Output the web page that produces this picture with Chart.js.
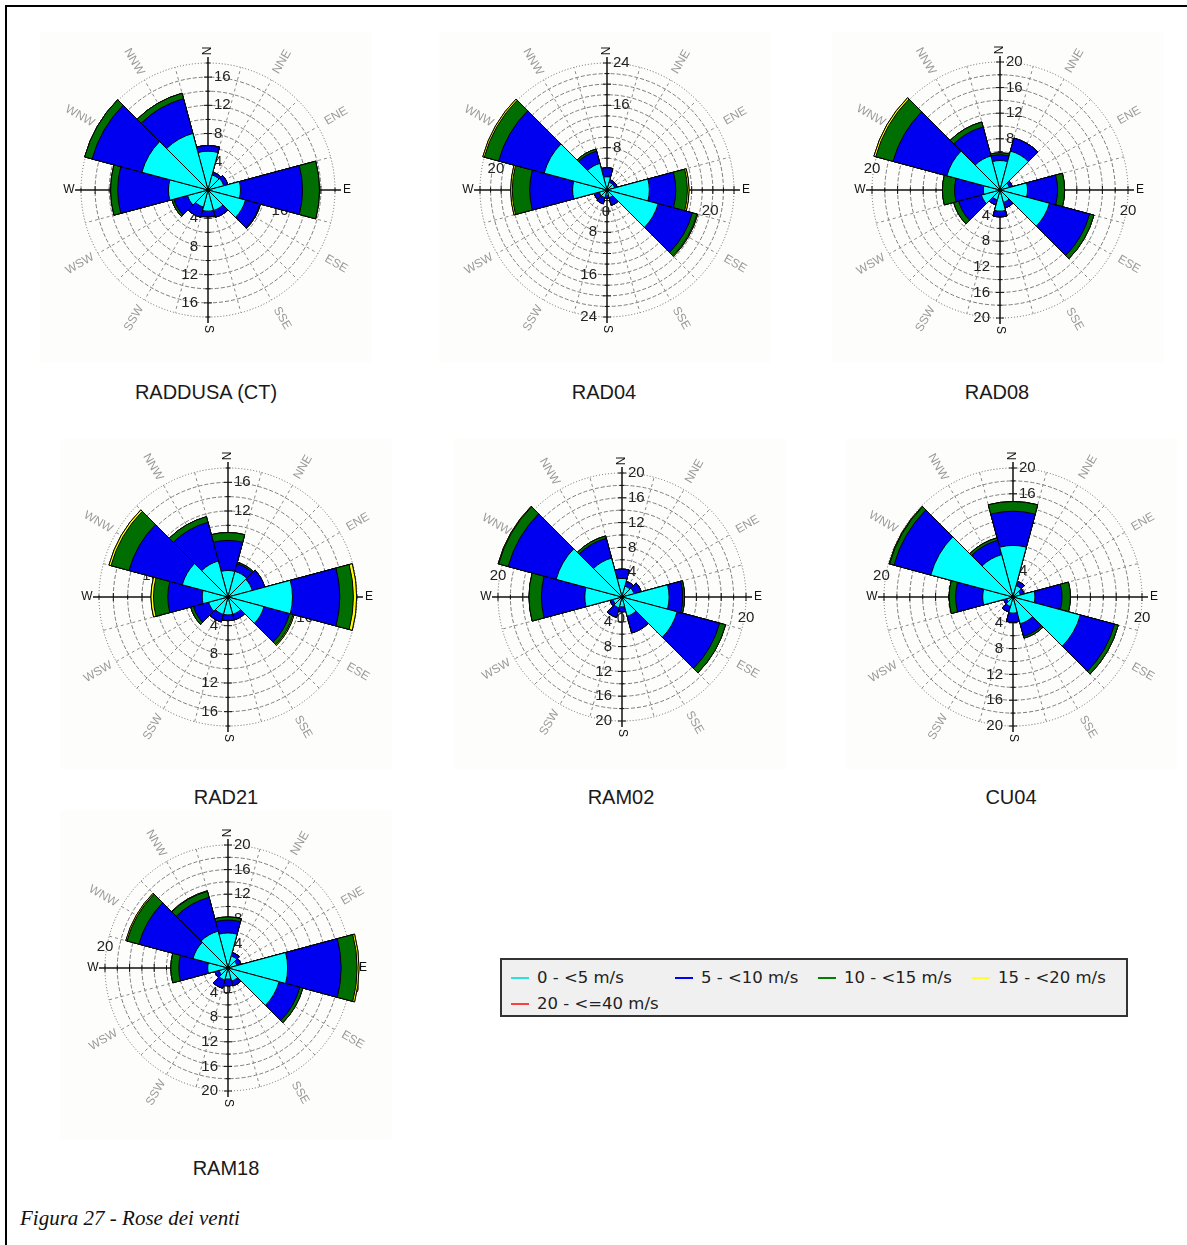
<!DOCTYPE html>
<html>
<head>
<meta charset="utf-8">
<script src="https://cdn.jsdelivr.net/npm/chart.js@4/dist/chart.umd.min.js"></script>
<style>
  html, body { margin: 0; padding: 0; background: #ffffff; }
  #page { position: relative; width: 1187px; height: 1245px; overflow: hidden; background: #fff; }
  .frameTop { position: absolute; left: 5px; top: 5px; width: 1182px; height: 2px; background: #000; }
  .frameLeft { position: absolute; left: 5px; top: 5px; width: 2px; height: 1240px; background: #000; }
  .bg { position: absolute; background: #fdfdfb; }
  .rose { position: absolute; width: 340px; height: 340px; }
  .name { position: absolute; font-family: "Liberation Sans", Arial, sans-serif; font-size: 20px; line-height: 24px;
          color: #1a1a1a; transform: translateX(-50%); white-space: nowrap; }
  .caption { position: absolute; left: 20px; top: 1206px; font-family: "Liberation Serif", "DejaVu Serif", serif;
             font-style: italic; font-size: 21px; color: #111; white-space: nowrap; }
  .legend { position: absolute; left: 500px; top: 958px; width: 624px; height: 55px; border: 2px solid #333;
            background: #f0f0f0; }
  .lgItem { position: absolute; font-family: "DejaVu Sans", sans-serif; font-size: 16.5px; line-height: 20px;
            color: #222; white-space: nowrap; }
  .lgLine { position: absolute; width: 18px; height: 2px; }
</style>
</head>
<body>
<div id="page">
  <div class="frameTop"></div>
  <div class="frameLeft"></div>
  <div id="roses"></div>
  <div class="legend" id="legend"></div>
  <div class="caption">Figura 27 - Rose dei venti</div>
</div>
<script>
// ---------------- DATA ----------------
const directions = ['N', 'NNE', 'ENE', 'E', 'ESE', 'SSE', 'S', 'SSW', 'WSW', 'W', 'WNW', 'NNW'];
const speedClasses = ['0 - <5 m/s', '5 - <10 m/s', '10 - <15 m/s', '15 - <20 m/s', '20 - <=40 m/s'];
const stationNames = ['RADDUSA (CT)', 'RAD04', 'RAD08', 'RAD21', 'RAM02', 'CU04', 'RAM18'];

// frequency (%) per direction and speed class
const raddusa_0_5   = [5.5, 2.2, 2.3, 4.6, 5.5, 3.0, 3.0, 2.5, 3.0, 5.6, 9.7, 8.3];
const raddusa_5_10  = [0.8, 0.4, 0.6, 8.8, 2.1, 1.0, 0.8, 1.5, 2.0, 7.2, 7.3, 5.1];
const raddusa_10_15 = [0, 0, 0, 2.4, 0.1, 0, 0, 0, 0.3, 1.0, 1.1, 0.8];
const raddusa_15_20 = [0, 0, 0, 0, 0, 0, 0, 0, 0, 0, 0, 0];
const raddusa_20_40 = [0, 0, 0, 0, 0, 0, 0, 0, 0, 0, 0, 0];

const rad04_0_5   = [2.5, 1.5, 1.5, 8.0, 10.0, 1.5, 1.0, 1.5, 1.5, 6.5, 12.3, 5.2];
const rad04_5_10  = [1.7, 0.5, 0.5, 5.0, 6.7, 1.5, 0.5, 1.2, 1.0, 8.1, 8.9, 2.4];
const rad04_10_15 = [0, 0, 0, 2.2, 0.9, 0, 0, 0, 0, 3.3, 2.8, 0.4];
const rad04_15_20 = [0, 0, 0, 0.3, 0.15, 0, 0, 0, 0, 0.3, 0.3, 0];
const rad04_20_40 = [0, 0, 0, 0, 0, 0, 0, 0, 0, 0, 0, 0];

const rad08_0_5   = [4.6, 6.3, 1.5, 4.3, 8.0, 2.0, 3.3, 1.6, 3.0, 2.6, 8.6, 5.5];
const rad08_5_10  = [0.9, 2.1, 0.5, 4.7, 6.5, 0.9, 0.9, 0.8, 3.7, 4.5, 8.7, 4.7];
const rad08_10_15 = [0.3, 0, 0, 1.1, 0.7, 0, 0, 0, 0.8, 1.9, 2.8, 0.8];
const rad08_15_20 = [0, 0, 0, 0, 0, 0, 0, 0, 0, 0, 0.3, 0];
const rad08_20_40 = [0, 0, 0, 0, 0, 0, 0, 0, 0, 0, 0, 0];

const rad21_0_5   = [3.7, 3.7, 3.5, 9.0, 5.2, 2.5, 2.5, 2.5, 2.8, 3.6, 6.6, 5.2];
const rad21_5_10  = [4.2, 1.1, 1.8, 6.6, 3.7, 0.8, 0.8, 1.1, 2.2, 4.8, 7.7, 5.6];
const rad21_10_15 = [1.1, 0.2, 0, 1.9, 0.5, 0, 0, 0, 0.4, 2.0, 2.6, 0.8];
const rad21_15_20 = [0, 0, 0, 0.45, 0.15, 0, 0, 0, 0, 0.35, 0.3, 0];
const rad21_20_40 = [0, 0, 0, 0, 0, 0, 0, 0, 0, 0, 0, 0];

const ram02_0_5   = [3.0, 1.8, 2.0, 7.6, 9.2, 3.2, 1.6, 1.8, 1.5, 6.0, 11.0, 6.5];
const ram02_5_10  = [1.5, 0.8, 1.2, 2.2, 7.1, 2.8, 0.8, 1.6, 0.5, 7.0, 8.0, 3.3];
const ram02_10_15 = [0, 0, 0, 0.3, 1.0, 0, 0, 0, 0, 2.0, 1.6, 0.4];
const ram02_15_20 = [0, 0, 0, 0, 0, 0, 0, 0, 0, 0, 0.1, 0];
const ram02_20_40 = [0, 0, 0, 0, 0, 0, 0, 0, 0, 0, 0, 0];

const cu04_0_5   = [8.0, 1.8, 1.2, 3.4, 10.8, 4.3, 2.5, 1.5, 1.0, 4.7, 13.2, 6.8];
const cu04_5_10  = [5.3, 0.7, 0.6, 4.2, 5.5, 2.0, 1.4, 0.9, 0.5, 4.2, 5.9, 2.3];
const cu04_10_15 = [1.5, 0, 0, 1.3, 0.6, 0.3, 0, 0, 0, 1.0, 0.7, 0.4];
const cu04_15_20 = [0, 0, 0, 0, 0, 0, 0, 0, 0, 0, 0.1, 0];
const cu04_20_40 = [0, 0, 0, 0, 0, 0, 0, 0, 0, 0, 0, 0];

const ram18_0_5   = [5.7, 2.0, 1.5, 9.7, 8.6, 2.2, 1.8, 2.0, 1.5, 3.3, 5.9, 6.2];
const ram18_5_10  = [2.1, 0.6, 0.7, 8.7, 3.5, 0.8, 1.1, 1.4, 0.7, 4.7, 9.1, 5.7];
const ram18_10_15 = [0.5, 0, 0, 2.6, 0.5, 0, 0, 0, 0, 1.3, 2.0, 1.0];
const ram18_15_20 = [0, 0, 0, 0.3, 0, 0, 0, 0, 0, 0, 0.2, 0.1];
const ram18_20_40 = [0, 0, 0, 0, 0, 0, 0, 0, 0, 0, 0, 0];

// radial axis: outer ring value and tick labels
const scaleMax = [18, 24, 20, 18, 20, 20, 20];
const northTicks = [[4, 8, 12, 16], [8, 16, 24], [4, 8, 12, 16, 20], [4, 8, 12, 16], [4, 8, 12, 16, 20], [4, 8, 12, 16, 20], [4, 8, 12, 16, 20]];
const southTicks = [[4, 8, 12, 16], [8, 16, 24], [4, 8, 12, 16, 20], [4, 8, 12, 16], [4, 8, 12, 16, 20], [4, 8, 12, 16, 20], [4, 8, 12, 16, 20]];
const westLabelAt = [10.2, 21, 20, 10.8, 20, 20.4, 20];
const westLabelText = ['16', '20', '20', '16', '20', '20', '20'];
const eastLabelAt = [10.2, 19.5, 20, 10.7, 20, 20, 20];
const eastLabelText = ['16', '20', '20', '16', '20', '20', '20'];
const showZeroLabel = [false, true, false, false, true, false, true];

// ---------------- LAYOUT / STYLE ----------------
const stationClasses = [
  [raddusa_0_5, raddusa_5_10, raddusa_10_15, raddusa_15_20, raddusa_20_40],
  [rad04_0_5, rad04_5_10, rad04_10_15, rad04_15_20, rad04_20_40],
  [rad08_0_5, rad08_5_10, rad08_10_15, rad08_15_20, rad08_20_40],
  [rad21_0_5, rad21_5_10, rad21_10_15, rad21_15_20, rad21_20_40],
  [ram02_0_5, ram02_5_10, ram02_10_15, ram02_15_20, ram02_20_40],
  [cu04_0_5, cu04_5_10, cu04_10_15, cu04_15_20, cu04_20_40],
  [ram18_0_5, ram18_5_10, ram18_10_15, ram18_15_20, ram18_20_40]
];
const layout = [
  { cx: 208, cy: 190, R: 127, nameX: 206, nameY: 392 },
  { cx: 607, cy: 190, R: 127, nameX: 604, nameY: 392 },
  { cx: 1000, cy: 190, R: 128, nameX: 997, nameY: 392 },
  { cx: 228, cy: 597, R: 129, nameX: 226, nameY: 797 },
  { cx: 622, cy: 597, R: 124, nameX: 621, nameY: 797 },
  { cx: 1013, cy: 597, R: 129, nameX: 1011, nameY: 797 },
  { cx: 228, cy: 968, R: 123, nameX: 226, nameY: 1168 }
];
const fillColors = ['#00ffff', '#0000f0', '#006e00', '#ffff00', '#ff0000'];
const legendColors = ['#30e0e0', '#0000ff', '#008000', '#ffff30', '#ff4040'];
const HALF = 170;

function cumulate(classes) {
  const out = [];
  let run = new Array(classes[0].length).fill(0);
  classes.forEach(c => {
    run = run.map((v, i) => Math.round((v + c[i]) * 100) / 100);
    out.push(run.slice());
  });
  return out;
}

function makeDeco(k) {
  const tickFont = '15px "Liberation Sans", Arial, sans-serif';
  return {
    id: 'roseDeco' + k,
    beforeDatasetsDraw(chart) {
      const s = chart.scales.r, ctx = chart.ctx;
      const cx = s.xCenter, cy = s.yCenter, R = s.drawingArea;
      const d = v => s.getDistanceFromCenterForValue(v);
      ctx.save();
      // extra dashed spokes along the sector centres
      ctx.strokeStyle = '#8a8a8a';
      ctx.lineWidth = 1;
      ctx.setLineDash([3, 3]);
      for (let i = 0; i < directions.length; i++) {
        if (i % 3 === 0) continue;
        const a = (i * 30 - 90) * Math.PI / 180;
        ctx.beginPath();
        ctx.moveTo(cx, cy);
        ctx.lineTo(cx + R * Math.cos(a), cy + R * Math.sin(a));
        ctx.stroke();
      }
      ctx.setLineDash([]);
      // N-S / E-W axes
      const L = R + 6;
      ctx.strokeStyle = '#111';
      ctx.lineWidth = 1.5;
      ctx.beginPath();
      ctx.moveTo(cx, cy - L); ctx.lineTo(cx, cy + L);
      ctx.moveTo(cx - L, cy); ctx.lineTo(cx + L, cy);
      ctx.stroke();
      ctx.lineWidth = 1;
      ctx.beginPath();
      for (let v = 2; v <= scaleMax[k]; v += 2) {
        const r = d(v), w = v % 4 === 0 ? 4 : 2.5;
        ctx.moveTo(cx - w, cy - r); ctx.lineTo(cx + w, cy - r);
        ctx.moveTo(cx - w, cy + r); ctx.lineTo(cx + w, cy + r);
        ctx.moveTo(cx - r, cy - w); ctx.lineTo(cx - r, cy + w);
        ctx.moveTo(cx + r, cy - w); ctx.lineTo(cx + r, cy + w);
      }
      ctx.stroke();
      // tick labels
      ctx.fillStyle = '#222';
      ctx.font = tickFont;
      ctx.textBaseline = 'middle';
      ctx.textAlign = 'left';
      northTicks[k].forEach(v => ctx.fillText(String(v), cx + 6, cy - d(v)));
      ctx.textAlign = 'right';
      southTicks[k].forEach(v => ctx.fillText(String(v), cx - 10, cy + d(v)));
      ctx.textAlign = 'center';
      ctx.fillText(westLabelText[k], cx - d(westLabelAt[k]), cy - 21);
      ctx.fillText(eastLabelText[k], cx + d(eastLabelAt[k]), cy + 21);
      if (showZeroLabel[k]) ctx.fillText('0', cx - 1, cy + 22);
      ctx.restore();
    },
    afterDatasetsDraw(chart) {
      const s = chart.scales.r, ctx = chart.ctx;
      const cx = s.xCenter, cy = s.yCenter, R = s.drawingArea;
      ctx.save();
      ctx.textAlign = 'center';
      ctx.textBaseline = 'middle';
      directions.forEach((name, i) => {
        const deg = i * 30;
        const a = (deg - 90) * Math.PI / 180;
        ctx.save();
        if (i % 3 === 0) {
          const r = R + 12;
          ctx.translate(cx + r * Math.cos(a), cy + r * Math.sin(a));
          if (name === 'N') ctx.rotate(-Math.PI / 2);
          if (name === 'S') ctx.rotate(Math.PI / 2);
          ctx.fillStyle = '#111';
          ctx.font = '12px "Liberation Sans", Arial, sans-serif';
        } else {
          const r = R + 21;
          ctx.translate(cx + r * Math.cos(a), cy + r * Math.sin(a));
          let rot = a;
          if (deg > 180) rot = a + Math.PI;
          ctx.rotate(rot);
          ctx.fillStyle = '#9a9a9a';
          ctx.font = '12px "Liberation Sans", Arial, sans-serif';
        }
        ctx.fillText(name, 0, 0);
        ctx.restore();
      });
      ctx.restore();
    }
  };
}

const rosesDiv = document.getElementById('roses');
stationNames.forEach((stName, k) => {
  const lay = layout[k];
  const bg = document.createElement('div');
  bg.className = 'bg';
  bg.style.left = (lay.cx - 168) + 'px';
  bg.style.top = (lay.cy - 158) + 'px';
  bg.style.width = '332px';
  bg.style.height = '330px';
  rosesDiv.appendChild(bg);
});
stationNames.forEach((stName, k) => {
  const lay = layout[k];
  const wrap = document.createElement('div');
  wrap.className = 'rose';
  wrap.style.left = (lay.cx - HALF) + 'px';
  wrap.style.top = (lay.cy - HALF) + 'px';
  const cv = document.createElement('canvas');
  cv.width = 2 * HALF; cv.height = 2 * HALF;
  cv.style.width = (2 * HALF) + 'px'; cv.style.height = (2 * HALF) + 'px';
  wrap.appendChild(cv);
  rosesDiv.appendChild(wrap);

  const nm = document.createElement('div');
  nm.className = 'name';
  nm.textContent = stName;
  nm.style.left = lay.nameX + 'px';
  nm.style.top = (lay.nameY - 12) + 'px';
  rosesDiv.appendChild(nm);

  const cum = cumulate(stationClasses[k]);
  const datasets = cum.map((vals, j) => ({
    label: speedClasses[j],
    data: vals,
    backgroundColor: fillColors[j],
    borderColor: '#000',
    borderWidth: 1,
    clip: false
  }));
  const maxV = scaleMax[k];
  new Chart(cv, {
    type: 'polarArea',
    data: { labels: directions, datasets },
    options: {
      responsive: false,
      animation: false,
      layout: { padding: HALF - lay.R },
      plugins: { legend: { display: false }, tooltip: { enabled: false } },
      scales: {
        r: {
          min: 0,
          max: maxV,
          startAngle: -15,
          ticks: { display: false, stepSize: 2 },
          pointLabels: { display: false },
          grid: { circular: true, color: (c) => (c.tick && c.tick.value >= maxV) ? '#666' : '#7c7c7c', lineWidth: 1 },
          border: { dash: (c) => (c.tick && c.tick.value >= maxV) ? [1, 2] : [4, 2] },
          angleLines: { display: true, color: '#8a8a8a', lineWidth: 1, borderDash: [3, 3] }
        }
      }
    },
    plugins: [makeDeco(k)]
  });
});

// legend
const legend = document.getElementById('legend');
const lgPos = [[9, 8], [173, 8], [316, 8], [470, 8], [9, 34]];
speedClasses.forEach((txt, j) => {
  const line = document.createElement('div');
  line.className = 'lgLine';
  line.style.background = legendColors[j];
  line.style.left = lgPos[j][0] + 'px';
  line.style.top = (lgPos[j][1] + 9) + 'px';
  legend.appendChild(line);
  const t = document.createElement('div');
  t.className = 'lgItem';
  t.textContent = txt;
  t.style.left = (lgPos[j][0] + 26) + 'px';
  t.style.top = lgPos[j][1] + 'px';
  legend.appendChild(t);
});
</script>
</body>
</html>
